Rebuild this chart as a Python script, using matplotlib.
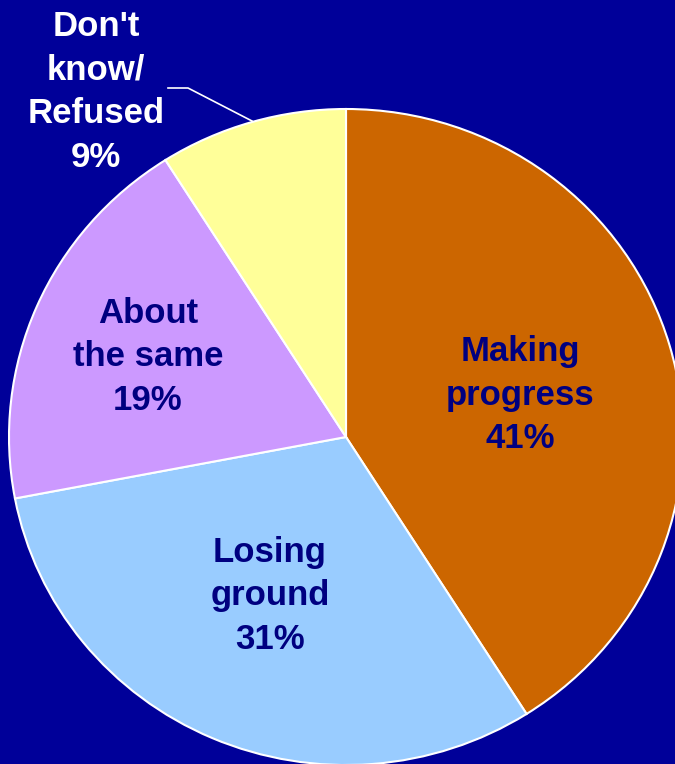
import matplotlib
matplotlib.use("Agg")
import matplotlib.pyplot as plt

categories = ["Making\nprogress", "Losing\nground", "About\nthe same", "Don't\nknow/\nRefused"]
values = [41, 31, 19, 9]
colors = ["#CC6600", "#99CCFF", "#CC99FF", "#FFFF99"]
bg = "#000099"
navy = "#000080"

W, H = 675, 764
fig = plt.figure(figsize=(W / 100, H / 100), dpi=100, facecolor=bg)
ax = fig.add_axes([0, 0, 1, 1])
ax.set_facecolor(bg)

# pie centre and radii in pixels (slightly wider than tall)
cx, cy, rx, ry = 346, 437, 337, 328

wedges, _ = ax.pie(values, colors=colors, startangle=90, counterclock=False,
                   wedgeprops=dict(edgecolor="white", linewidth=1.5))
ax.set_aspect("auto")
ax.set_xlim((0 - cx) / rx, (W - cx) / rx)
ax.set_ylim((cy - H) / ry, (cy - 0) / ry)
ax.axis("off")


def px(x, y):
    return (x - cx) / rx, (cy - y) / ry


font = dict(family=["Liberation Sans", "DejaVu Sans"], fontweight="bold",
            fontsize=25, ha="center", va="center", linespacing=1.42)

label_pos = [(520, 395), (270, 596), (148, 357), (96, 92)]
label_col = [navy, navy, navy, "white"]
for cat, v, (x, y), c in zip(categories, values, label_pos, label_col):
    ax.text(*px(x, y), f"{cat}\n{v}%", color=c, **font)

# leader line for the small slice
lx, ly = zip(px(168, 88), px(188, 88), px(252, 121))
ax.plot(lx, ly, color="white", lw=1.2)

fig.savefig("out.png", dpi=100, facecolor=bg)
